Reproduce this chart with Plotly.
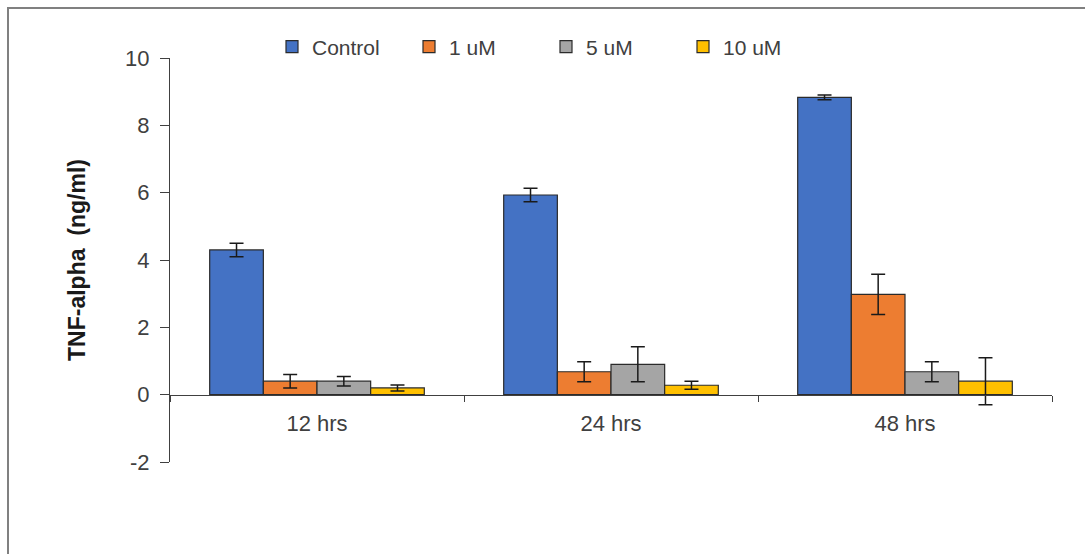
import plotly.graph_objects as go

categories = ["12 hrs", "24 hrs", "48 hrs"]
series_names = ["Control", "1 uM", "5 uM", "10 uM"]
control = [4.3, 5.93, 8.83]
control_err = [0.2, 0.2, 0.07]
um1 = [0.4, 0.68, 2.98]
um1_err = [0.2, 0.3, 0.6]
um5 = [0.4, 0.9, 0.68]
um5_err = [0.14, 0.52, 0.3]
um10 = [0.2, 0.28, 0.4]
um10_err = [0.09, 0.12, 0.7]
y_tick_vals = [-2, 0, 2, 4, 6, 8, 10]
y_tick_text = ["-2", "0", "2", "4", "6", "8", "10"]
colors = ["#4472C4", "#ED7D31", "#A5A5A5", "#FFC000"]

W, H = 1085, 554
L, R, T, B = 170, 33, 58, 92
pw, ph = W - L - R, H - T - B

def px_x(p):
    return (p - L) / pw

def px_y(p):
    return (H - B - p) / ph

fig = go.Figure()
for name, vals, errs, col in zip(series_names, [control, um1, um5, um10],
                                 [control_err, um1_err, um5_err, um10_err], colors):
    fig.add_trace(go.Bar(
        x=categories, y=vals, name=name,
        marker=dict(color=col, line=dict(color="#2b2b2b", width=1.2)),
        error_y=dict(type="data", array=errs, visible=True, color="#1a1a1a",
                     thickness=1.5, width=7),
    ))

FONT = "Liberation Sans, Arial, sans-serif"
fig.update_layout(
    width=W, height=H,
    margin=dict(l=L, r=R, t=T, b=B, pad=0),
    paper_bgcolor="white", plot_bgcolor="white",
    barmode="group", bargap=0.27, bargroupgap=0,
    font=dict(family=FONT, size=21, color="#404040"),
    legend=dict(orientation="h", x=px_x(272), xanchor="left", y=px_y(47), yanchor="middle",
                entrywidth=92, entrywidthmode="pixels",
                font=dict(size=21, color="#404040"), bgcolor="rgba(0,0,0,0)",
                itemclick=False),
    xaxis=dict(type="category", anchor="free", position=2/12,
               showline=True, linecolor="#404040", linewidth=1,
               ticks="outside", tickson="boundaries", ticklen=6, tickcolor="#404040",
               ticklabelstandoff=9,
               showgrid=False, tickfont=dict(size=22, color="#404040")),
    yaxis=dict(range=[-2, 10], tickmode="array", tickvals=y_tick_vals, ticktext=y_tick_text,
               showline=True, linecolor="#404040", linewidth=1,
               ticks="outside", ticklen=9, tickcolor="#404040", showgrid=False,
               ticklabelstandoff=6,
               zeroline=False, tickfont=dict(size=22, color="#404040"),
               title=dict(text="<b>TNF-alpha\u00a0 (ng/ml)</b>", standoff=33,
                          font=dict(size=23, color="#1a1a1a"))),
    shapes=[dict(type="rect", xref="paper", yref="paper",
                 x0=px_x(8), x1=px_x(1100), y0=px_y(580), y1=px_y(8),
                 line=dict(color="#808080", width=2), fillcolor="rgba(0,0,0,0)", layer="below")],
)

fig.write_html("out.html")
